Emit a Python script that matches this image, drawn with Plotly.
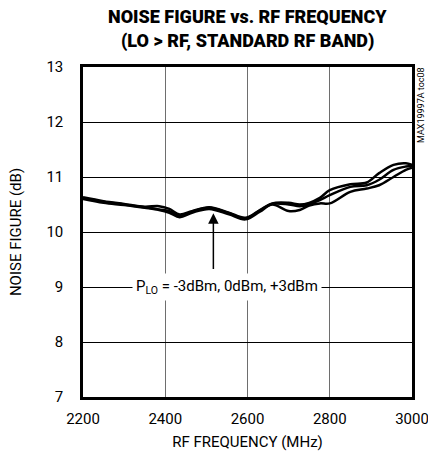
import plotly.graph_objects as go

# RF frequency (MHz) sample points
freq = [2200, 2250, 2300, 2350, 2385, 2410, 2435, 2465, 2507, 2555, 2595, 2630,
        2660, 2700, 2727, 2750, 2776, 2800, 2850, 2890, 2920, 2955, 2985, 3000]

# noise figure (dB), one list per LO drive level
nf_a = [10.63, 10.56, 10.51, 10.46, 10.47, 10.42, 10.32, 10.38, 10.45, 10.35, 10.26, 10.40,
        10.52, 10.53, 10.50, 10.53, 10.62, 10.76, 10.87, 10.90, 11.07, 11.22, 11.25, 11.22]
nf_b = [10.62, 10.55, 10.50, 10.45, 10.41, 10.38, 10.29, 10.37, 10.44, 10.34, 10.25, 10.39,
        10.51, 10.50, 10.47, 10.50, 10.58, 10.67, 10.82, 10.85, 10.95, 11.13, 11.19, 11.20]
nf_c = [10.60, 10.53, 10.49, 10.44, 10.40, 10.35, 10.27, 10.35, 10.42, 10.32, 10.23, 10.37,
        10.50, 10.38, 10.40, 10.48, 10.52, 10.52, 10.73, 10.79, 10.85, 11.00, 11.13, 11.17]

x_ticks = [2200, 2400, 2600, 2800, 3000]
y_ticks = [7, 8, 9, 10, 11, 12, 13]

FONT = "Roboto, Liberation Sans Narrow, sans-serif"

fig = go.Figure()
for nf in [nf_a, nf_b, nf_c]:
    fig.add_trace(go.Scatter(x=freq, y=nf, mode="lines",
                             line=dict(color="black", width=2.5, shape="spline"),
                             showlegend=False, hoverinfo="skip"))

fig.update_layout(
    width=428, height=454,
    margin=dict(l=83, r=16, t=67, b=57),
    paper_bgcolor="white", plot_bgcolor="white",
    font=dict(family=FONT, size=15, color="black"),
    showlegend=False,
)
fig.update_xaxes(range=[2200, 3000], tickvals=x_ticks, ticks="", automargin=False,
                 showgrid=True, gridcolor="#6e6e6e", gridwidth=1,
                 showline=True, linecolor="black", linewidth=2.5, mirror=True,
                 zeroline=False, tickfont=dict(size=15), ticklabelstandoff=6,
                 ticklabeloverflow="allow",
                 title=dict(text="RF FREQUENCY (MHz)", font=dict(size=15), standoff=10))
fig.update_yaxes(range=[7, 13], tickvals=y_ticks, ticks="", automargin=False,
                 showgrid=True, gridcolor="black", gridwidth=1,
                 showline=True, linecolor="black", linewidth=2.5, mirror=True,
                 zeroline=False, tickfont=dict(size=15), ticklabelstandoff=14,
                 title=dict(text="NOISE FIGURE (dB)", font=dict(size=15), standoff=22))

# title, two lines
fig.add_annotation(text="NOISE FIGURE vs. RF FREQUENCY", xref="paper", yref="paper",
                   x=0.5, y=1, yshift=51, yanchor="middle", showarrow=False,
                   font=dict(family=FONT, size=18, weight=900))
fig.add_annotation(text="(LO > RF, STANDARD RF BAND)", xref="paper", yref="paper",
                   x=0.5, y=1, yshift=26, yanchor="middle", showarrow=False,
                   font=dict(family=FONT, size=18, weight=900))

# label with arrow to curves
fig.add_annotation(text="P<sub>LO</sub> = -3dBm, 0dBm, +3dBm", x=2551, y=9,
                   showarrow=False, bgcolor="white", borderpad=3,
                   font=dict(size=15))
fig.add_annotation(x=2517, y=10.34, ax=2517, ay=9.3, xref="x", yref="y",
                   axref="x", ayref="y", text="", showarrow=True,
                   arrowhead=2, arrowsize=1.4, arrowwidth=1.5, arrowcolor="black")

# part note on the right edge
fig.add_annotation(text="MAX19997A toc08", xref="paper", yref="paper",
                   x=1, y=1, xshift=9, yshift=-38, textangle=-90,
                   xanchor="center", yanchor="middle",
                   showarrow=False, font=dict(size=9))

fig.write_html("out.html", config={"displayModeBar": False},
               post_script="document.body.style.margin='0';")
